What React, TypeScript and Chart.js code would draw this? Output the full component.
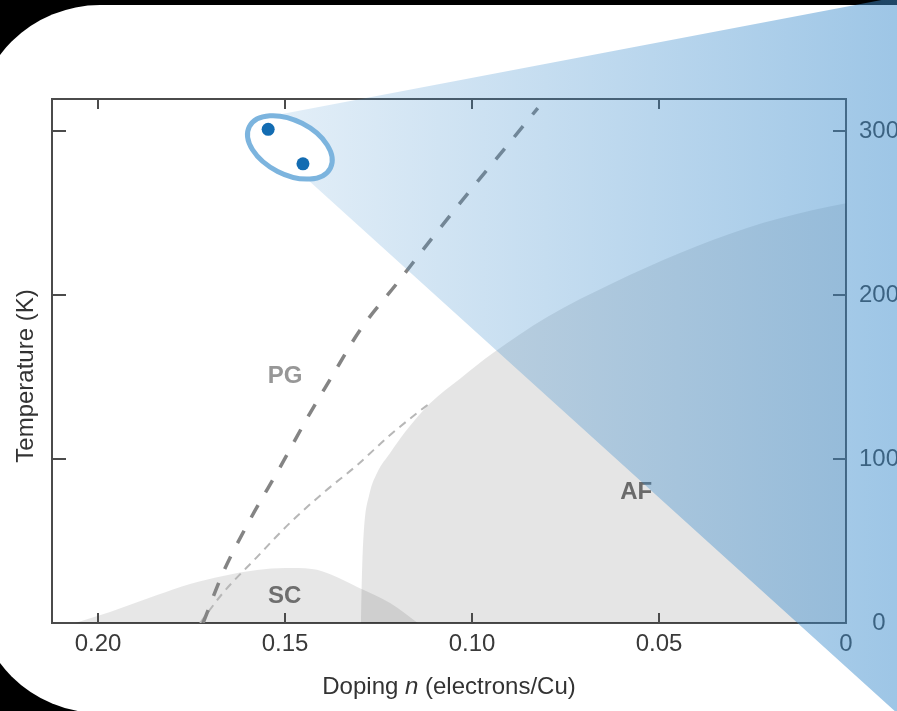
import React, { useEffect, useRef } from 'react';
import { Chart, registerables } from 'chart.js';

Chart.register(...registerables);

// ---- axes ----
const X_MIN = 0;
const X_MAX = 0.2123;
const Y_MIN = 0;
const Y_MAX = 319.5;
const X_TICKS = [0, 0.05, 0.1, 0.15, 0.2];
const X_TICK_LABELS = ['0', '0.05', '0.10', '0.15', '0.20'];
const Y_TICKS = [0, 100, 200, 300];
const Y_TICK_LABELS = ['0', '100', '200', '300'];
const X_TITLE_PARTS = ['Doping ', 'n', ' (electrons/Cu)'];
const Y_TITLE = 'Temperature (K)';

// ---- superconducting dome (SC) ----
const SC_X = [0.2061, 0.1968, 0.1842, 0.1754, 0.1666, 0.1575, 0.15, 0.1428, 0.1374, 0.1307, 0.1219, 0.1145];
const SC_T = [0, 6.7, 17, 23.8, 28.7, 32.3, 33.5, 33, 29.3, 22, 12.2, 0];

// ---- antiferromagnetic region (AF) ----
const AF_X = [0.1297, 0.1294, 0.1289, 0.1275, 0.1254, 0.1219, 0.1179, 0.1112, 0.1032, 0.0944, 0.0799, 0.0623, 0.0444, 0.0265, 0.0088, 0];
const AF_T = [0, 32, 57, 78, 91.5, 103.7, 116.5, 134, 149, 164.6, 186.6, 207.3, 225.6, 240.9, 251.8, 256];

// ---- pseudogap line (thick dashed) ----
const PG_X = [0.1719, 0.1666, 0.1594, 0.1513, 0.1433, 0.138, 0.1299, 0.12, 0.1104, 0.0997, 0.0898, 0.0824];
const PG_T = [0, 30.5, 62.8, 95.1, 128, 148.2, 178.7, 207.3, 235.4, 265.9, 293.3, 314];

// ---- thin dashed line ----
const THIN_X = [0.1727, 0.1666, 0.1575, 0.1487, 0.1398, 0.1307, 0.1219, 0.1147, 0.1112];
const THIN_T = [0, 18.3, 40.2, 61, 79.3, 96.3, 114.6, 128, 134.1];

// ---- samples ----
const SAMPLE_X = [0.1545, 0.1452];
const SAMPLE_T = [301, 280];

// ---- region labels ----
const REGION_LABELS = ['PG', 'SC', 'AF'];
const REGION_X = [0.15, 0.1501, 0.0561];
const REGION_T = [150.6, 16.2, 79.9];
const REGION_COLORS = ['#979797', '#6e6e6e', '#6a6a6a'];

// ---- zoom ellipse centre (data units) ----
const ZOOM_X = 0.1487;
const ZOOM_T = 290;

const FONT = '"Liberation Sans", Arial, Helvetica, sans-serif';
const AXIS_COLOR = '#4b4b4b';
const TEXT_COLOR = '#3a3a3a';

const zip = (xs: number[], ys: number[]) => xs.map((x, i) => ({ x, y: ys[i] }));

function roundRectPath(ctx: CanvasRenderingContext2D, x: number, y: number, w: number, h: number, r: number) {
  ctx.beginPath();
  ctx.moveTo(x + r, y);
  ctx.lineTo(x + w - r, y);
  ctx.arcTo(x + w, y, x + w, y + r, r);
  ctx.lineTo(x + w, y + h - r);
  ctx.arcTo(x + w, y + h, x + w - r, y + h, r);
  ctx.lineTo(x + r, y + h);
  ctx.arcTo(x, y + h, x, y + h - r, r);
  ctx.lineTo(x, y + r);
  ctx.arcTo(x, y, x + r, y, r);
  ctx.closePath();
}

const decorPlugin = {
  id: 'decor',
  beforeDraw(chart: any) {
    const { ctx, width, height } = chart;
    ctx.save();
    ctx.fillStyle = '#000';
    ctx.fillRect(0, 0, width, height);
    ctx.fillStyle = '#fff';
    roundRectPath(ctx, -25, 5, width + 300, 708, 125);
    ctx.fill();
    ctx.restore();
  },
  afterDatasetsDraw(chart: any) {
    const { ctx, chartArea } = chart;
    const xs = chart.scales.x;
    const ys = chart.scales.y;
    ctx.save();
    // inward ticks
    ctx.strokeStyle = AXIS_COLOR;
    ctx.lineWidth = 2;
    ctx.beginPath();
    X_TICKS.forEach((v) => {
      const px = Math.round(xs.getPixelForValue(v));
      if (px <= chartArea.left + 2 || px >= chartArea.right - 2) return;
      ctx.moveTo(px, chartArea.bottom);
      ctx.lineTo(px, chartArea.bottom - 10);
      ctx.moveTo(px, chartArea.top);
      ctx.lineTo(px, chartArea.top + 10);
    });
    Y_TICKS.forEach((v) => {
      const py = Math.round(ys.getPixelForValue(v));
      if (py <= chartArea.top + 2 || py >= chartArea.bottom - 2) return;
      ctx.moveTo(chartArea.left, py);
      ctx.lineTo(chartArea.left + 14, py);
      ctx.moveTo(chartArea.right, py);
      ctx.lineTo(chartArea.right - 13, py);
    });
    ctx.stroke();

    // region labels
    ctx.font = `bold 24px ${FONT}`;
    ctx.textAlign = 'center';
    ctx.textBaseline = 'middle';
    REGION_LABELS.forEach((t, i) => {
      ctx.fillStyle = REGION_COLORS[i];
      ctx.fillText(t, xs.getPixelForValue(REGION_X[i]), ys.getPixelForValue(REGION_T[i]));
    });

    // x title with italic n
    ctx.fillStyle = '#333';
    ctx.textBaseline = 'alphabetic';
    ctx.textAlign = 'left';
    const fonts = [`24px ${FONT}`, `italic 24px ${FONT}`, `24px ${FONT}`];
    const widths = X_TITLE_PARTS.map((p, i) => {
      ctx.font = fonts[i];
      return ctx.measureText(p).width;
    });
    const total = widths.reduce((a, b) => a + b, 0);
    let tx = (chartArea.left + chartArea.right) / 2 - total / 2;
    const ty = chartArea.bottom + 71;
    X_TITLE_PARTS.forEach((p, i) => {
      ctx.font = fonts[i];
      ctx.fillText(p, tx, ty);
      tx += widths[i];
    });

    // y title
    ctx.font = `24px ${FONT}`;
    ctx.translate(chartArea.left - 19, (chartArea.top + chartArea.bottom) / 2 + 15);
    ctx.rotate(-Math.PI / 2);
    ctx.textAlign = 'center';
    ctx.fillText(Y_TITLE, 0, 0);
    ctx.restore();
  },
  afterDraw(chart: any) {
    const { ctx, width } = chart;
    const xs = chart.scales.x;
    const ys = chart.scales.y;
    const cx = xs.getPixelForValue(ZOOM_X);
    const cy = ys.getPixelForValue(ZOOM_T);
    const a = 45.5;
    const b = 27;
    const phi = (27 * Math.PI) / 180;
    const c = Math.cos(phi);
    const s = Math.sin(phi);
    const pt = (t: number) => ({
      x: cx + c * a * Math.cos(t) - s * b * Math.sin(t),
      y: cy + s * a * Math.cos(t) + c * b * Math.sin(t),
    });
    // bottom-most and top-most points of the ellipse
    const tBottom = Math.atan2(c * b, s * a);
    const tTop = tBottom + Math.PI;
    const P1 = pt(tTop);
    const P2 = pt(tBottom);
    const norm = (x: number, y: number) => {
      const l = Math.hypot(x, y);
      return { x: x / l, y: y / l };
    };
    const d1 = norm(1, -0.19);
    const d2 = norm(1, 0.905);
    const twoPi = Math.PI * 2;
    const delta = (((tTop - tBottom) % twoPi) + twoPi) % twoPi;
    const mid = tBottom + delta / 2;
    const ccw = pt(mid).x < pt(mid + Math.PI).x;

    ctx.save();
    const grad = ctx.createLinearGradient(P1.x, 0, width, 0);
    grad.addColorStop(0, 'rgba(61,141,205,0.14)');
    grad.addColorStop(1, 'rgba(61,141,205,0.5)');
    ctx.fillStyle = grad;
    ctx.beginPath();
    ctx.moveTo(P1.x, P1.y);
    ctx.lineTo(P1.x + d1.x * 3000, P1.y + d1.y * 3000);
    ctx.lineTo(P2.x + d2.x * 3000, P2.y + d2.y * 3000);
    ctx.lineTo(P2.x, P2.y);
    ctx.ellipse(cx, cy, a, b, phi, tBottom, tTop, ccw);
    ctx.closePath();
    ctx.fill();

    ctx.beginPath();
    ctx.ellipse(cx, cy, a, b, phi, 0, twoPi);
    ctx.strokeStyle = '#7cb4de';
    ctx.lineWidth = 5;
    ctx.stroke();
    ctx.restore();
  },
};

export default function App() {
  const ref = useRef<HTMLCanvasElement | null>(null);

  useEffect(() => {
    document.body.style.margin = '0';
    document.body.style.overflow = 'hidden';
    const canvas = ref.current;
    if (!canvas) return;
    const tickFont = { family: FONT, size: 24 };
    const chart = new Chart(canvas, {
      type: 'scatter',
      data: {
        datasets: [
          {
            label: 'samples',
            data: zip(SAMPLE_X, SAMPLE_T),
            showLine: false,
            pointRadius: 6.5,
            pointBackgroundColor: '#136cb2',
            pointBorderWidth: 0,
          },
          {
            label: 'PG',
            data: zip(PG_X, PG_T),
            showLine: true,
            borderColor: '#848484',
            borderWidth: 3.5,
            borderDash: [14, 15],
            pointRadius: 0,
            fill: false,
            tension: 0.4,
            cubicInterpolationMode: 'monotone',
          },
          {
            label: 'thin',
            data: zip(THIN_X, THIN_T),
            showLine: true,
            borderColor: '#b7b7b7',
            borderWidth: 2,
            borderDash: [8, 6],
            pointRadius: 0,
            fill: false,
            tension: 0.4,
            cubicInterpolationMode: 'monotone',
          },
          {
            label: 'SC',
            data: zip(SC_X, SC_T),
            showLine: true,
            borderWidth: 0,
            borderColor: 'rgba(0,0,0,0)',
            backgroundColor: 'rgba(0,0,0,0.095)',
            pointRadius: 0,
            fill: 'origin',
            tension: 0.4,
            cubicInterpolationMode: 'monotone',
          },
          {
            label: 'AF',
            data: zip(AF_X, AF_T),
            showLine: true,
            borderWidth: 0,
            borderColor: 'rgba(0,0,0,0)',
            backgroundColor: 'rgba(0,0,0,0.1)',
            pointRadius: 0,
            fill: 'origin',
            tension: 0.4,
            cubicInterpolationMode: 'monotone',
          },
        ],
      },
      options: {
        responsive: false,
        animation: false,
        devicePixelRatio: 1,
        layout: { padding: 0 },
        plugins: { legend: { display: false }, tooltip: { enabled: false } },
        events: [],
        scales: {
          x: {
            type: 'linear',
            position: 'bottom',
            reverse: true,
            min: X_MIN,
            max: X_MAX,
            afterBuildTicks: (sc: any) => {
              sc.ticks = X_TICKS.map((v) => ({ value: v }));
            },
            afterFit: (sc: any) => {
              sc.height = 88;
            },
            ticks: {
              callback: (_v: any, i: number) => X_TICK_LABELS[i],
              font: tickFont,
              color: TEXT_COLOR,
              padding: 7,
              maxRotation: 0,
              autoSkip: false,
            },
            grid: { display: false, drawTicks: false },
            border: { display: true, color: AXIS_COLOR, width: 2 },
          },
          xTop: {
            type: 'linear',
            position: 'top',
            reverse: true,
            min: X_MIN,
            max: X_MAX,
            afterFit: (sc: any) => {
              sc.height = 99;
            },
            ticks: { display: false },
            grid: { display: false, drawTicks: false },
            border: { display: true, color: AXIS_COLOR, width: 2 },
          },
          y: {
            type: 'linear',
            position: 'right',
            min: Y_MIN,
            max: Y_MAX,
            afterBuildTicks: (sc: any) => {
              sc.ticks = Y_TICKS.map((v) => ({ value: v }));
            },
            afterFit: (sc: any) => {
              sc.width = 51;
            },
            ticks: {
              callback: (_v: any, i: number) => Y_TICK_LABELS[i],
              font: tickFont,
              color: TEXT_COLOR,
              padding: 13,
              crossAlign: 'center',
              autoSkip: false,
            },
            grid: { display: false, drawTicks: false },
            border: { display: true, color: AXIS_COLOR, width: 2 },
          },
          yLeft: {
            type: 'linear',
            position: 'left',
            min: Y_MIN,
            max: Y_MAX,
            afterFit: (sc: any) => {
              sc.width = 52;
            },
            ticks: { display: false },
            grid: { display: false, drawTicks: false },
            border: { display: true, color: AXIS_COLOR, width: 2 },
          },
        },
      } as any,
      plugins: [decorPlugin],
    });
    return () => chart.destroy();
  }, []);

  return <canvas ref={ref} width={897} height={711} style={{ display: 'block', width: 897, height: 711 }} />;
}
